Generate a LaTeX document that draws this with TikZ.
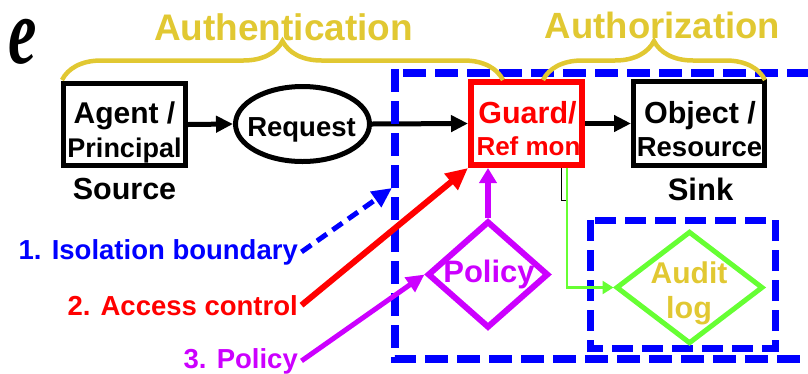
\documentclass[tikz,border=0pt]{standalone}
\usepackage{fontspec}
\setmainfont{Liberation Sans}
\newfontfamily\titleserif{Liberation Serif}
\usetikzlibrary{arrows.meta,shapes.geometric,decorations.pathreplacing}
\definecolor{authyellow}{RGB}{225,200,50}
\definecolor{polpurple}{RGB}{204,0,255}
\definecolor{auditgreen}{RGB}{102,255,51}
\definecolor{bndblue}{RGB}{0,0,255}
\definecolor{refred}{RGB}{255,0,0}
\newcommand\pxfont[1]{\fontsize{#1}{#1}\selectfont\bfseries}

\begin{document}
\begin{tikzpicture}[x=1pt,y=-1pt,
  txt/.style={inner sep=0pt, anchor=base},
  sidelabel/.style={inner sep=3.5pt, anchor=base east, font=\pxfont{27.5}},
  framebox/.style={draw, rectangle, line width=5pt, inner sep=0pt},
  flowarrow/.style={line width=5pt, -{Triangle[length=17pt,width=16pt]}},
  bound/.style={draw=bndblue, line width=7.5pt, dash pattern=on 23pt off 9pt},
  stagebrace/.style={draw=authyellow, line width=4.5pt, decorate,
    decoration={brace, amplitude=39pt}},
  rule/.style={draw, diamond, inner sep=0pt, aspect=1},
]
\useasboundingbox (0,0) rectangle (808,373);

% last letter of the slide title
\node[txt, anchor=base west] (titletail) at (8,63.5)
  {\scalebox{0.68}[1]{\titleserif\fontsize{94}{94}\selectfont\bfseries\itshape e}};

% principal, request, guard, object
\node[framebox, minimum width=122pt, minimum height=82pt] (agent) at (124.5,124.5) {};
\node[txt, font=\pxfont{30}] (agentA) at (124.5,123) {Agent /};
\node[txt, font=\pxfont{27}] (agentB) at (124.5,157) {Principal};
\node[txt, font=\pxfont{30.5}] (source) at (124.5,199) {Source};

\node[draw, ellipse, line width=5pt, inner sep=0pt, minimum width=134pt, minimum height=75pt]
  (request) at (302.5,124) {};
\node[txt, font=\pxfont{27.5}] (requestT) at (301.5,136) {Request};

\node[framebox, draw=refred, line width=6pt, minimum width=111pt, minimum height=83pt]
  (guard) at (526.5,123.5) {};
\node[txt, font=\pxfont{30.5}, text=refred] (guardA) at (527.5,123) {Guard/};
\node[txt, font=\pxfont{26}, text=refred] (guardB) at (528.5,155) {Ref mon};

\node[framebox, minimum width=131pt, minimum height=84pt] (object) at (699,123.5) {};
\node[txt, font=\pxfont{30.5}] (objectA) at (700,123) {Object /};
\node[txt, font=\pxfont{27.5}] (objectB) at (699.5,156) {Resource};
\node[txt, font=\pxfont{31}] (sink) at (700.5,200) {Sink};

% request flow
\draw[flowarrow] (agent.east) -- (request.west);
\draw[flowarrow] (request.east) -- (guard.west);
\draw[flowarrow] (guard.east) -- (object.west);

% isolation boundary around guard and object
\draw[bound] (395,69) -- (395,359) -- (830,359);
\draw[bound] (403,73) -- (830,73);

% stages
\draw[stagebrace] (62,80) -- (503,80);
\draw[stagebrace] (543,80) -- (765,80);
\node[txt, font=\pxfont{37}, text=authyellow] (authn) at (283.5,40) {Authentication};
\node[txt, font=\pxfont{36.5}, text=authyellow] (authz) at (662.5,38) {Authorization};

% audit
\draw[line width=1pt] (561,168) -- (561,200) -- (567,200);
\draw[bound, line width=7pt, dash pattern=on 21pt off 9pt] (590,220) rectangle (775,348);
\node[rule, draw=auditgreen, line width=5pt, minimum width=147pt, minimum height=112.5pt]
  (audit) at (689.5,287.5) {};
\node[txt, font=\pxfont{30}, text=authyellow] (auditA) at (689,283) {Audit};
\node[txt, font=\pxfont{30.5}, text=authyellow] (auditB) at (689,318) {log};
\coordinate (audittap) at (567,0);
\draw[auditgreen, line width=2.5pt, -{Triangle[length=11pt,width=13pt]}]
  (guard.south -| audittap) |- (audit.west);

% policy
\node[rule, draw=polpurple, line width=6pt, minimum width=121pt, minimum height=107pt]
  (policy) at (488,274.5) {};
\node[txt, font=\pxfont{31}, text=polpurple] (policyT) at (489,282) {Policy};
\draw[polpurple, line width=5.5pt, -{Triangle[length=15pt,width=17pt]}]
  (policy.north) -- (policy.north |- guard.south);

% numbered mechanisms
\node[sidelabel, text=bndblue] (lblIso) at (301.5,259) {1. Isolation boundary};
\node[sidelabel, text=refred] (lblAcc) at (301.5,315) {2. Access control};
\node[sidelabel, text=polpurple] (lblPol) at (301.5,368) {3. Policy};
\coordinate (isotip) at (392,188);
\draw[bndblue, line width=5pt, dash pattern=on 12pt off 7pt, -{Triangle[length=20pt,width=18pt]}]
  (lblIso.east) -- (isotip);
\draw[refred, line width=6pt, -{Triangle[length=22pt,width=20pt]}]
  (lblAcc.east) -- (guard.south west);
\draw[polpurple, line width=5pt, -{Triangle[length=18pt,width=17pt]}]
  (lblPol.east) -- (policy.west);
\end{tikzpicture}
\end{document}
